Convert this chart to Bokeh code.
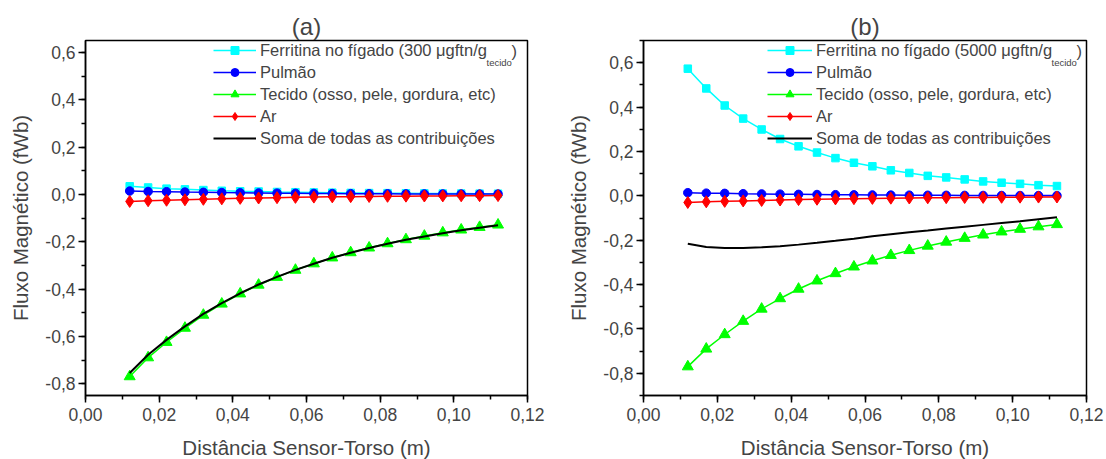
from bokeh.plotting import figure
from bokeh.models import (Range1d, FixedTicker, CustomJSTickFormatter, Legend,
                          LegendItem, Label)
from bokeh.layouts import row
from bokeh.embed import file_html
from bokeh.resources import INLINE

# ---------------- data ----------------
distancia = [0.012, 0.017, 0.022, 0.027, 0.032, 0.037, 0.042, 0.047, 0.052, 0.057,
             0.062, 0.067, 0.072, 0.077, 0.082, 0.087, 0.092, 0.097, 0.102, 0.107, 0.112]

ferritina_a = [0.034, 0.029, 0.024, 0.021, 0.018, 0.015, 0.013, 0.012, 0.010, 0.009,
               0.008, 0.007, 0.006, 0.0054, 0.005, 0.0044, 0.004, 0.0035, 0.0032, 0.0029, 0.0026]
ferritina_b = [0.573, 0.484, 0.407, 0.348, 0.299, 0.256, 0.223, 0.195, 0.170, 0.149,
               0.133, 0.115, 0.103, 0.090, 0.083, 0.074, 0.065, 0.059, 0.054, 0.048, 0.044]
pulmao = [0.014, 0.012, 0.011, 0.0095, 0.0085, 0.0075, 0.0066, 0.0058, 0.005, 0.0044,
          0.0038, 0.0033, 0.0029, 0.0025, 0.0022, 0.0019, 0.0016, 0.0014, 0.0012, 0.001, 0.0009]
tecido = [-0.770, -0.690, -0.625, -0.565, -0.510, -0.463, -0.420, -0.383, -0.350, -0.320,
          -0.293, -0.268, -0.246, -0.226, -0.208, -0.191, -0.176, -0.162, -0.150, -0.139, -0.129]
ar = [-0.030, -0.027, -0.025, -0.023, -0.021, -0.019, -0.017, -0.0155, -0.014, -0.0128,
      -0.0117, -0.0107, -0.0098, -0.009, -0.0083, -0.0077, -0.0071, -0.0066, -0.0061, -0.0057, -0.0053]
soma_a = [-0.755, -0.678, -0.615, -0.558, -0.505, -0.460, -0.418, -0.381, -0.349, -0.319,
          -0.293, -0.268, -0.247, -0.227, -0.209, -0.192, -0.178, -0.164, -0.152, -0.141, -0.131]
soma_b = [-0.216, -0.231, -0.235, -0.235, -0.232, -0.227, -0.220, -0.212, -0.203, -0.193,
          -0.182, -0.173, -0.164, -0.156, -0.147, -0.139, -0.131, -0.123, -0.115, -0.106, -0.097]

x_ticks = [0.0, 0.02, 0.04, 0.06, 0.08, 0.10, 0.12]
x_minor = [0.0, 0.01, 0.02, 0.03, 0.04, 0.05, 0.06, 0.07, 0.08, 0.09, 0.10, 0.11, 0.12]
y_ticks = [-0.8, -0.6, -0.4, -0.2, 0.0, 0.2, 0.4, 0.6]
y_minor = [-0.9, -0.8, -0.7, -0.6, -0.5, -0.4, -0.3, -0.2, -0.1, 0.0, 0.1, 0.2, 0.3, 0.4, 0.5, 0.6, 0.7]

FONT = "Liberation Sans"
FRAME_H = 355


def panel(title, ferritina, soma, conc, y_lo, y_hi, frame_w, b_left, b_right,
          leg_x, glyph_w, main_w):
    p = figure(frame_width=frame_w, frame_height=FRAME_H, output_backend="svg",
               toolbar_location=None, x_range=Range1d(0.0, 0.12),
               y_range=Range1d(y_lo, y_hi),
               min_border_left=b_left, min_border_right=b_right,
               min_border_top=40, min_border_bottom=64)
    p.title.text = title
    p.title.align = "center"
    p.title.text_font = FONT
    p.title.text_font_size = "24px"
    p.title.text_font_style = "normal"
    p.title.standoff = 2
    p.xgrid.visible = False
    p.ygrid.visible = False
    p.outline_line_color = "black"
    p.outline_line_width = 1.5
    p.outline_line_alpha = 1.0
    p.background_fill_color = "white"
    p.border_fill_color = "white"

    p.xaxis.ticker = FixedTicker(ticks=x_ticks, minor_ticks=x_minor)
    p.yaxis.ticker = FixedTicker(ticks=y_ticks, minor_ticks=y_minor)
    p.xaxis.formatter = CustomJSTickFormatter(code="return tick.toFixed(2).replace('.', ',');")
    p.yaxis.formatter = CustomJSTickFormatter(code="return tick.toFixed(1).replace('.', ',');")
    p.xaxis.axis_label = "Distância Sensor-Torso (m)"
    p.yaxis.axis_label = "Fluxo Magnético (fWb)"
    for ax in (p.xaxis[0], p.yaxis[0]):
        ax.axis_label_text_font = FONT
        ax.axis_label_text_font_size = "20.5px"
        ax.axis_label_text_font_style = "normal"
        ax.major_label_text_font = FONT
        ax.major_label_text_font_size = "17.5px"
        ax.axis_line_width = 1.5
        ax.major_tick_line_width = 1.5
        ax.minor_tick_line_width = 1.5
        ax.major_tick_in = 0
        ax.major_tick_out = 7
        ax.minor_tick_in = 0
        ax.minor_tick_out = 4
    p.xaxis.major_label_standoff = 5
    p.xaxis.axis_label_standoff = 12
    p.yaxis.major_label_standoff = 3
    p.yaxis.axis_label_standoff = 10

    lw = 1.5
    l1 = p.line(distancia, ferritina, line_color="#00FFFF", line_width=lw)
    s1 = p.scatter(distancia, ferritina, marker="square", size=7.5, color="#00FFFF")
    l2 = p.line(distancia, pulmao, line_color="#0000FF", line_width=lw)
    s2 = p.scatter(distancia, pulmao, marker="circle", size=8.5, color="#0000FF")
    l3 = p.line(distancia, tecido, line_color="#00FF00", line_width=lw)
    s3 = p.scatter(distancia, tecido, marker="triangle", size=11, color="#00FF00")
    l4 = p.line(distancia, ar, line_color="#FF0000", line_width=lw)
    s4 = p.scatter(distancia, ar, marker="diamond", size=12, color="#FF0000")
    l5 = p.line(distancia, soma, line_color="black", line_width=2)

    items = [
        LegendItem(label="Ferritina no fígado (%s μgftn/g" % conc, renderers=[l1, s1]),
        LegendItem(label="Pulmão", renderers=[l2, s2]),
        LegendItem(label="Tecido (osso, pele, gordura, etc)", renderers=[l3, s3]),
        LegendItem(label="Ar", renderers=[l4, s4]),
        LegendItem(label="Soma de todas as contribuições", renderers=[l5]),
    ]
    leg_h = 5 * 20 + 4 * 2
    leg = Legend(items=items, location=(leg_x, FRAME_H - leg_h), glyph_width=glyph_w,
                 glyph_height=20, label_height=20, spacing=2, padding=0, margin=0,
                 label_standoff=4, border_line_alpha=0, background_fill_alpha=0,
                 label_text_font=FONT, label_text_font_size="16.5px")
    p.add_layout(leg)

    sub_x = leg_x + glyph_w + 4 + main_w
    p.add_layout(Label(x=sub_x, y=FRAME_H - 22, x_units="screen", y_units="screen",
                       text="tecido", text_font=FONT, text_font_size="9.5px",
                       text_baseline="alphabetic"))
    p.add_layout(Label(x=sub_x + 25, y=FRAME_H - 10, x_units="screen", y_units="screen",
                       text=")", text_font=FONT, text_font_size="16.5px",
                       text_baseline="middle"))
    return p


pa = panel("(a)", ferritina_a, soma_a, "300", -0.85, 0.65, 442, 85, 26, 128, 43, 226)
pb = panel("(b)", ferritina_b, soma_b, "5000", -0.9, 0.7, 443, 90, 20, 124, 45, 235)

layout = row(pa, pb)
open("out.html", "w").write(file_html(layout, INLINE))
